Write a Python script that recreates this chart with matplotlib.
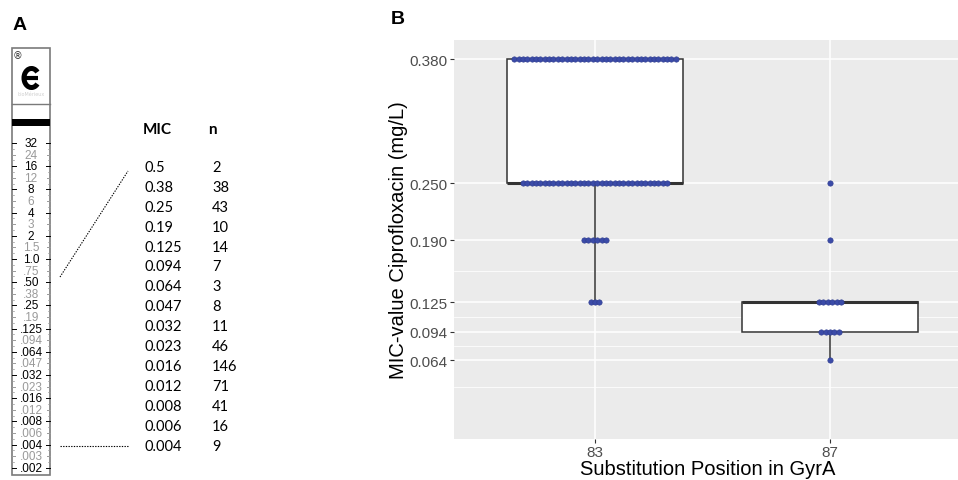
import numpy as np
import matplotlib
matplotlib.use("Agg")
import matplotlib.pyplot as plt
from matplotlib.patches import Rectangle, Arc

# Panel A: Etest strip scale and MIC distribution table
strip_labels = ["32", "24", "16", "12", "8", "6", "4", "3", "2", "1.5", "1.0", ".75",
                ".50", ".38", ".25", ".19", ".125", ".094", ".064", ".047", ".032",
                ".023", ".016", ".012", ".008", ".006", ".004", ".003", ".002"]
mic_values = ["0.5", "0.38", "0.25", "0.19", "0.125", "0.094", "0.064", "0.047",
              "0.032", "0.023", "0.016", "0.012", "0.008", "0.006", "0.004"]
mic_counts = ["2", "38", "43", "10", "14", "7", "3", "8", "11", "46", "146", "71",
              "41", "16", "9"]

# Panel B: MIC per GyrA substitution position
positions = ["83", "87"]
mic_83 = [0.125, 0.19, 0.25, 0.38]
n_83 = [3, 6, 34, 38]
mic_87 = [0.064, 0.094, 0.125, 0.19, 0.25]
n_87 = [1, 5, 6, 1, 1]
y_breaks = [0.064, 0.094, 0.125, 0.190, 0.250, 0.380]
y_minor = [0.036, 0.079, 0.1095, 0.1575]

fig = plt.figure(figsize=(9.58, 4.81), dpi=100)

# ---- panel A, drawn in pixel coordinates
ax0 = fig.add_axes([0, 0, 1, 1])
ax0.set_xlim(0, 958)
ax0.set_ylim(481, 0)
ax0.axis("off")

ax0.text(20, 25, "A", fontsize=14, fontweight="bold", ha="center", va="center",
         family="Liberation Sans")
ax0.text(398, 20, "B", fontsize=14, fontweight="bold", ha="center", va="center",
         family="Liberation Sans")

ax0.add_patch(Rectangle((12, 49), 38, 427, fill=False, ec="#7a7a7a", lw=1.2))
ax0.plot([12, 50], [105, 105], color="#7a7a7a", lw=1.0)
ax0.add_patch(Rectangle((12, 120), 38, 7, color="black", lw=0))
ax0.text(18, 56, "\u00ae", fontsize=7, ha="center", va="center", color="#333333")
# stylised Etest logo
ax0.add_patch(Arc((31.5, 79), 15, 19, theta1=45, theta2=315, color="black", lw=3.6))
ax0.plot([25, 38], [79, 79], color="black", lw=3.0, solid_capstyle="butt")
ax0.text(31, 95, "bioMérieux", fontsize=3.5, ha="center", va="center", color="#d0d0d0")

for i, lab in enumerate(strip_labels):
    y = 144 + i * 11.6
    major = (i % 2 == 0)
    col = "black" if major else "#9a9a9a"
    ax0.text(31, y, lab, fontsize=8.5, ha="center", va="center", color=col,
             family=["Liberation Sans Narrow", "Liberation Sans"])
    tl = 4 if major else 3
    ax0.plot([12, 12 + tl], [y, y], color=col, lw=0.7)
    ax0.plot([50 - tl, 50], [y, y], color=col, lw=0.7)
    if i < len(strip_labels) - 1:
        ax0.plot([12, 14], [y + 5.8, y + 5.8], color="#9a9a9a", lw=0.5)
        ax0.plot([48, 50], [y + 5.8, y + 5.8], color="#9a9a9a", lw=0.5)

ax0.plot([60, 128], [278, 172], color="black", lw=0.8, ls=(0, (1.2, 1.2)))
ax0.plot([60, 128], [447, 447], color="black", lw=0.8, ls=(0, (1.2, 1.2)))

ax0.text(143, 130, "MIC", fontsize=11, fontweight="bold", ha="left", va="center",
         family="Lato")
ax0.text(208, 130, "n", fontsize=11, fontweight="bold", ha="left", va="center",
         family="Lato")
for i in range(len(mic_values)):
    y = 168 + i * 19.9
    ax0.text(145, y, mic_values[i], fontsize=10.5, ha="left", va="center", family="Lato")
    ax0.text(212, y, mic_counts[i], fontsize=10.5, ha="left", va="center", family="Lato")

# ---- panel B
ax = fig.add_axes([454 / 958, 41 / 481, 517 / 958, 399 / 481])
ax.set_facecolor("#EBEBEB")
for s in ax.spines.values():
    s.set_visible(False)

groups = [np.repeat(mic_83, n_83), np.repeat(mic_87, n_87)]
ax.boxplot(groups, positions=[1, 2], widths=0.75, patch_artist=True,
           showfliers=False, showcaps=False,
           boxprops=dict(facecolor="white", edgecolor="#333333", lw=1.1),
           whiskerprops=dict(color="#333333", lw=1.1),
           medianprops=dict(color="#333333", lw=2.2), zorder=2)

step = 0.0186
for pos, vals, cnts in [(1, mic_83, n_83), (2, mic_87, n_87)]:
    for v, k in zip(vals, cnts):
        xs = pos + (np.arange(k) - (k - 1) / 2) * step
        ax.scatter(xs, np.full(k, v), s=15, color="#3B4BA8", edgecolor="#2C3A8C",
                   lw=0.4, zorder=3)

ax.set_xlim(0.4, 2.6)
ax.set_ylim(-0.0183, 0.400)
ax.set_xticks([1, 2])
ax.set_xticklabels(positions)
ax.set_yticks(y_breaks)
ax.set_yticklabels(["%.3f" % v for v in y_breaks])
ax.set_yticks(y_minor, minor=True)
ax.tick_params(axis="y", which="minor", length=0)
ax.tick_params(which="major", length=3, width=0.8, color="#333333",
               labelcolor="#4D4D4D", labelsize=11, pad=2)
ax.tick_params(axis="x", pad=1.5)
for t in ax.get_xticklabels() + ax.get_yticklabels():
    t.set_family("Liberation Sans")
ax.grid(True, which="major", color="white", lw=1.1)
ax.grid(True, which="minor", axis="y", color="white", lw=0.55)
ax.set_axisbelow(True)

ax.set_xlabel("Substitution Position in GyrA", fontsize=14.5, family="Liberation Sans")
ax.set_ylabel("MIC-value Ciprofloxacin (mg/L)", fontsize=14.5, family="Liberation Sans",
              labelpad=1)
ax.xaxis.set_label_coords((708 - 454) / 517, -0.049)

fig.savefig("out.png", dpi=100)
